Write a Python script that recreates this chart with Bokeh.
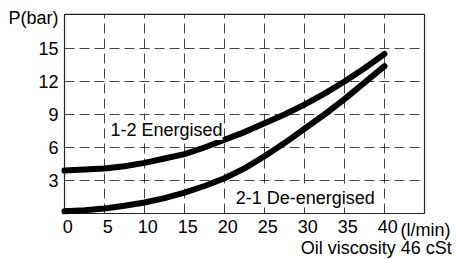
from bokeh.plotting import figure
from bokeh.models import Range1d
from bokeh.core.properties import value
from bokeh.embed import file_html
from bokeh.resources import INLINE

flow = [0, 2.5, 5, 7.5, 10, 12.5, 15, 17.5, 20, 22.5, 25, 27.5, 30, 32.5, 35, 37.5, 40]
energised = [3.9, 4.0, 4.1, 4.3, 4.6, 5.0, 5.4, 6.0, 6.7, 7.4, 8.2, 9.0, 9.9, 10.9, 12.0, 13.2, 14.5]
deenergised = [0.2, 0.3, 0.45, 0.7, 1.0, 1.4, 1.9, 2.5, 3.2, 4.1, 5.2, 6.4, 7.7, 9.0, 10.4, 11.9, 13.4]
x_ticks = [0, 5, 10, 15, 20, 25, 30, 35, 40]
y_ticks = [3, 6, 9, 12, 15]
label_energised = "1-2 Energised"
label_deenergised = "2-1 De-energised"
y_title = "P(bar)"
x_unit = "(l/min)"
note = "Oil viscosity 46 cSt"

X_MAX = 45.0
Y_MAX = 18.1
FONT = value("Liberation Sans")
FS = "18px"

# Canvas covers the whole picture: 8 px per l/min, 11 px per bar
W, H = 456, 259
x0_px, y0_px = 64, 213
p = figure(width=W, height=H, output_backend="svg", toolbar_location=None,
           x_range=Range1d(-x0_px / 8, (W - x0_px) / 8),
           y_range=Range1d(-(H - y0_px) / 11, y0_px / 11),
           min_border=0)
p.axis.visible = False
p.grid.visible = False
p.outline_line_color = None
p.background_fill_color = "white"
p.border_fill_color = "white"

# grid
gx = x_ticks[1:]
p.segment(x0=gx, y0=[0] * len(gx), x1=gx, y1=[Y_MAX] * len(gx),
          line_color="#444444", line_width=1, line_dash="10 5")
p.segment(x0=[0] * len(y_ticks), y0=y_ticks, x1=[X_MAX] * len(y_ticks), y1=y_ticks,
          line_color="#444444", line_width=1, line_dash="10 5")
# frame
p.quad(left=[0], right=[X_MAX], bottom=[0], top=[Y_MAX], fill_color=None,
       line_color="#222222", line_width=1.2)

# curves
p.line(flow, energised, line_color="black", line_width=6, line_cap="round", line_join="round")
p.line(flow, deenergised, line_color="black", line_width=6, line_cap="round", line_join="round")

# tick labels
p.text(x=[t + 0.4 for t in x_ticks], y=[-0.55] * len(x_ticks), text=[str(t) for t in x_ticks],
       text_font=FONT, text_font_size=FS, text_align="center", text_baseline="top", text_color="black")
p.text(x=[-0.75] * len(y_ticks), y=y_ticks, text=[str(t) for t in y_ticks],
       text_font=FONT, text_font_size=FS, text_align="right", text_baseline="middle", text_color="black")

# labels
p.text(x=[5.75], y=[7.6], text=[label_energised], text_font=FONT, text_font_size=FS,
       text_align="left", text_baseline="middle", background_fill_color="white")
p.text(x=[21.4], y=[1.45], text=[label_deenergised], text_font=FONT, text_font_size=FS,
       text_align="left", text_baseline="middle", background_fill_color="white")
p.text(x=[-0.75], y=[17.8], text=[y_title], text_font=FONT, text_font_size=FS,
       text_align="right", text_baseline="middle")
p.text(x=[42.0], y=[-0.55], text=[x_unit], text_font=FONT, text_font_size=FS,
       text_align="left", text_baseline="top")
p.text(x=[48.4], y=[-3.15], text=[note], text_font=FONT, text_font_size=FS,
       text_align="right", text_baseline="middle")

open("out.html", "w").write(file_html(p, INLINE))
